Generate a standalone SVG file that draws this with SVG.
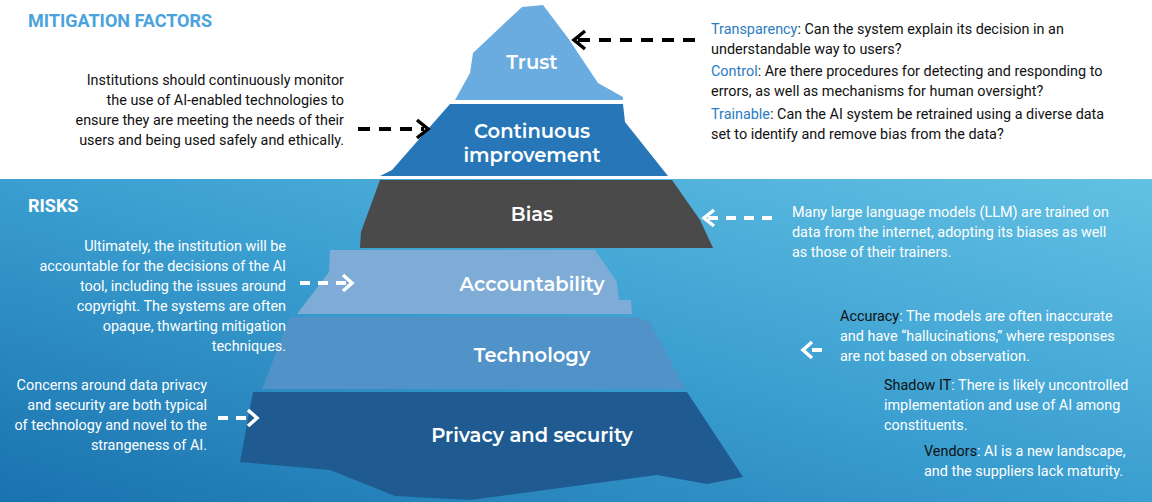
<svg xmlns="http://www.w3.org/2000/svg" width="1152" height="502" viewBox="0 0 1152 502">
<defs>
<linearGradient id="sea" x1="1" y1="0" x2="0" y2="1">
<stop offset="0" stop-color="#63c1e3"/><stop offset="0.5" stop-color="#3a9ed0"/><stop offset="1" stop-color="#1a72ae"/>
</linearGradient>
</defs>
<style>
.t{font-family:Roboto,"Liberation Sans",sans-serif;font-size:14.4px;fill:#111}
.w{fill:#fff}
.r{text-anchor:end}
.b{fill:#2b7cc1}
.lab{font-family:Montserrat,"Open Sans",sans-serif;font-weight:600;font-size:19.5px;fill:#fff;text-anchor:middle}
.h{font-family:Roboto,"Liberation Sans",sans-serif;font-weight:bold;font-size:18px}
.dk{stroke:#000;stroke-width:4;stroke-dasharray:12 9;fill:none}
.dw{stroke:#fff;stroke-width:4;stroke-dasharray:10 8;fill:none}
.hk{stroke:#000;stroke-width:3.5;fill:none}
.hw{stroke:#fff;stroke-width:3.5;fill:none}
</style>
<rect width="1152" height="502" fill="#fff"/>
<rect y="179" width="1152" height="323" fill="url(#sea)"/>
<g id="trust"><polygon points="522,7 543,5 568,38 598,83 623,97 623,100 455,100 470,73 473,53 508,20" fill="#6aace0"/><text class="lab" x="532" y="69">Trust</text></g>
<g id="continuous"><polygon points="450,104 623,104 625,122 668,176 380,176 392,170" fill="#2777b8"/><text class="lab" x="532" y="138">Continuous</text><text class="lab" x="532" y="162">improvement</text></g>
<g id="bias"><polygon points="380,180 672,180 700,220 713,248 360,248 361,232" fill="#4a4a4a"/><text class="lab" x="532" y="221">Bias</text></g>
<g id="accountability"><polygon points="330,250 595,250 617,282 619,300 631,300 632,314 297,314 329,272" fill="#7eacd6"/><text class="lab" x="532" y="291">Accountability</text></g>
<g id="technology"><polygon points="290,317 635,317 650,322 685,389 262,389" fill="#5192c8"/><text class="lab" x="532" y="362">Technology</text></g>
<g id="privacy"><polygon points="253,392 687,392 743,477 707,484 657,475 470,500 395,496 330,470 240,462" fill="#1f5b91"/><text class="lab" x="532" y="442">Privacy and security</text></g>
<g id="connectors">
<line class="dk" x1="695" y1="40" x2="578" y2="40"/><path class="hk" d="M585,31 L574,40 L585,49"/>
<line class="dk" x1="358" y1="129" x2="424" y2="129"/><path class="hk" d="M417,120 L428,129 L417,138"/>
<line class="dw" x1="772" y1="218" x2="708" y2="218"/><path class="hw" d="M714,210 L704,218 L714,226"/>
<line class="dw" x1="300" y1="283" x2="348" y2="283"/><path class="hw" d="M343,275 L352,283 L343,291"/>
<line class="dw" x1="822" y1="350" x2="806" y2="350"/><path class="hw" d="M812,342 L803,350 L812,358"/>
<line class="dw" x1="218" y1="418" x2="252" y2="418"/><path class="hw" d="M248,410 L257,418 L248,426"/>
</g>
<g id="texts">
<text class="h" x="28" y="27" fill="#4aa3dc">MITIGATION FACTORS</text>
<text class="h" x="28" y="212" fill="#fff">RISKS</text>
<text class="t r" x="344"><tspan x="344" y="85">Institutions should continuously monitor</tspan><tspan x="344" y="105">the use of AI-enabled technologies to</tspan><tspan x="344" y="125">ensure they are meeting the needs of their</tspan><tspan x="344" y="145">users and being used safely and ethically.</tspan></text>
<text class="t"><tspan x="711" y="34"><tspan class="b">Transparency</tspan>: Can the system explain its decision in an</tspan><tspan x="711" y="54">understandable way to users?</tspan>
<tspan x="711" y="76"><tspan class="b">Control</tspan>: Are there procedures for detecting and responding to</tspan><tspan x="711" y="96">errors, as well as mechanisms for human oversight?</tspan>
<tspan x="711" y="119"><tspan class="b">Trainable</tspan>: Can the AI system be retrained using a diverse data</tspan><tspan x="711" y="139">set to identify and remove bias from the data?</tspan></text>
<text class="t w"><tspan x="792" y="217">Many large language models (LLM) are trained on</tspan><tspan x="792" y="237">data from the internet, adopting its biases as well</tspan><tspan x="792" y="257">as those of their trainers.</tspan></text>
<text class="t w r"><tspan x="286" y="251">Ultimately, the institution will be</tspan><tspan x="286" y="271">accountable for the decisions of the AI</tspan><tspan x="286" y="291">tool, including the issues around</tspan><tspan x="286" y="311">copyright. The systems are often</tspan><tspan x="286" y="331">opaque, thwarting mitigation</tspan><tspan x="286" y="351">techniques.</tspan></text>
<text class="t"><tspan x="840" y="321"><tspan>Accuracy</tspan><tspan class="w">: The models are often inaccurate</tspan></tspan><tspan class="w" x="840" y="341">and have “hallucinations,” where responses</tspan><tspan class="w" x="840" y="361">are not based on observation.</tspan></text>
<text class="t"><tspan x="884" y="390"><tspan>Shadow IT</tspan><tspan class="w">: There is likely uncontrolled</tspan></tspan><tspan class="w" x="884" y="410">implementation and use of AI among</tspan><tspan class="w" x="884" y="430">constituents.</tspan></text>
<text class="t"><tspan x="924" y="456"><tspan>Vendors</tspan><tspan class="w">: AI is a new landscape,</tspan></tspan><tspan class="w" x="924" y="476">and the suppliers lack maturity.</tspan></text>
<text class="t w r"><tspan x="207" y="390">Concerns around data privacy</tspan><tspan x="207" y="410">and security are both typical</tspan><tspan x="207" y="430">of technology and novel to the</tspan><tspan x="207" y="450">strangeness of AI.</tspan></text>
</g>
</svg>
